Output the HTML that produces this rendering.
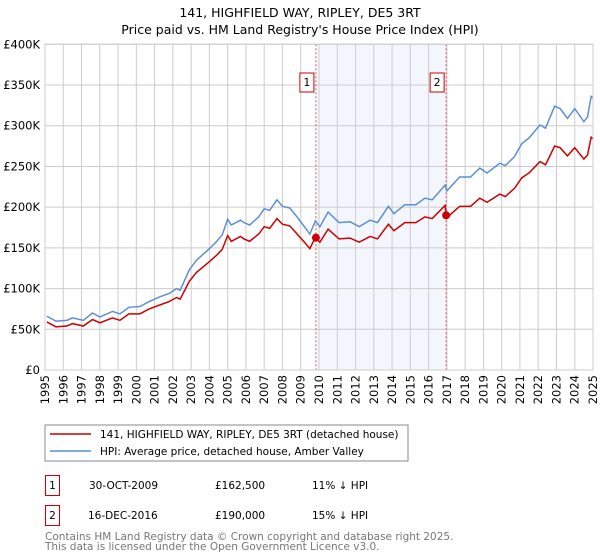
<!DOCTYPE html>
<html><head><meta charset="utf-8"><style>
body{margin:0;background:#fff;font-family:"DejaVu Sans","Liberation Sans",sans-serif;}
svg{display:block}
</style></head><body>
<svg width="600" height="560" viewBox="0 0 600 560" xmlns="http://www.w3.org/2000/svg" font-family="DejaVu Sans, Liberation Sans, sans-serif">
<text x="300" y="17" text-anchor="middle" font-size="12.5">141, HIGHFIELD WAY, RIPLEY, DE5 3RT</text>
<text x="300" y="34" text-anchor="middle" font-size="12.5">Price paid vs. HM Land Registry's House Price Index (HPI)</text>
<rect x="316" y="44" width="131" height="326" fill="#eef3fc" opacity="0.7"/>
<g id="grid"></g>
<g id="series"></g>
<g id="axes"></g>
<rect x="45" y="425" width="363" height="36" fill="#fff" stroke="#888"/>
<line x1="50" y1="434" x2="91" y2="434" stroke="#cc0000" stroke-width="1.6"/>
<text x="100" y="438" font-size="10.5">141, HIGHFIELD WAY, RIPLEY, DE5 3RT (detached house)</text>
<line x1="50" y1="451" x2="91" y2="451" stroke="#5b8fd4" stroke-width="1.6"/>
<text x="100" y="455" font-size="10.5">HPI: Average price, detached house, Amber Valley</text>
<g font-size="10.5">
<rect x="45.5" y="475.5" width="14" height="20" fill="#fff" stroke="#cc0000"/>
<text x="52.5" y="489" text-anchor="middle">1</text>
<text x="89" y="489">30-OCT-2009</text>
<text x="215" y="489">£162,500</text>
<text x="312" y="489">11% ↓ HPI</text>
<rect x="45.5" y="505.5" width="14" height="20" fill="#fff" stroke="#cc0000"/>
<text x="52.5" y="519" text-anchor="middle">2</text>
<text x="88" y="519">16-DEC-2016</text>
<text x="215" y="519">£190,000</text>
<text x="312" y="519">15% ↓ HPI</text>
</g>
<text x="45" y="540" font-size="10.5" fill="#777">Contains HM Land Registry data © Crown copyright and database right 2025.</text>
<text x="45" y="550" font-size="10.5" fill="#777">This data is licensed under the Open Government Licence v3.0.</text>
</svg>
<script>
const years=[1995.1,1995.6,1996.2,1996.5,1997.1,1997.6,1998,1998.7,1999.1,1999.6,2000.2,2000.7,2001.3,2001.8,2002.2,2002.4,2002.9,2003.3,2004,2004.4,2004.7,2005,2005.2,2005.7,2005.9,2006.2,2006.7,2007,2007.3,2007.7,2008,2008.4,2008.8,2009,2009.2,2009.5,2009.8,2010.05,2010.5,2011.1,2011.7,2012.2,2012.8,2013.2,2013.8,2014.1,2014.7,2015.3,2015.8,2016.2,2016.9,2017,2017.7,2018.3,2018.8,2019.2,2019.9,2020.2,2020.7,2021.1,2021.5,2022.1,2022.4,2022.9,2023.2,2023.6,2024,2024.5,2024.7,2024.9,2025];
const hpiValues=[66,60,61,64,61,70,65,72,69,77,78,84,90,94,100,98,123,135,149,158,166,185,178,184,181,178,188,198,196,209,201,199,188,182,176,167,183,176,194,181,182,176,184,181,201,192,203,203,211,209,227,220,237,237,248,242,254,251,262,278,285,301,297,324,321,309,321,305,311,336,334];
const priceValues=[59,53,54,57,54,62,58,64,61,69,69,75,80,84,89,87,109,120,133,141,148,165,158,164,161,158,167,176,174,186,179,177,167,162,157,149,163,157,173,161,162,157,164,161,179,171,181,181,188,186,202,187,201,201,211,206,216,213,223,236,242,256,252,275,273,263,273,259,264,286,284];
const saleYears=[2009.83,2016.96];
const saleValues=[162.5,190];
const yTicks=[0,50,100,150,200,250,300,350,400];
const yTickLabels=["£0","£50K","£100K","£150K","£200K","£250K","£300K","£350K","£400K"];
const xTicks=[1995,1996,1997,1998,1999,2000,2001,2002,2003,2004,2005,2006,2007,2008,2009,2010,2011,2012,2013,2014,2015,2016,2017,2018,2019,2020,2021,2022,2023,2024,2025];
const X0=45,X1=593,Y0=370,Y1=44.3;
const xs=y=>X0+(y-1995)/30*(X1-X0);
const ys=v=>Y0-v/400*(Y0-Y1);
const NS="http://www.w3.org/2000/svg";
function mk(tag,attrs,parent){const e=document.createElementNS(NS,tag);for(const k in attrs)e.setAttribute(k,attrs[k]);parent.appendChild(e);return e;}
const grid=document.getElementById('grid'),axes=document.getElementById('axes'),series=document.getElementById('series');
yTicks.forEach((t,i)=>{
 const l=mk('line',{x1:X0,x2:X1,y1:ys(t),y2:ys(t),stroke:'#ccc','stroke-width':1},grid);
 
 
 const tx=mk('text',{x:40,y:ys(t)+4,'text-anchor':'end','font-size':11.5},axes);
 tx.textContent=yTickLabels[i];
 
 
});
xTicks.forEach(t=>{
 const l=mk('line',{x1:xs(t),x2:xs(t),y1:Y1,y2:Y0,stroke:'#ccc','stroke-width':1},grid);
 
 
 const tx=mk('text',{x:0,y:0,'text-anchor':'end','font-size':11.5,transform:`translate(${xs(t)+4},375) rotate(-90)`},axes);
 tx.textContent=String(t);
 
 
});
const fr=mk('rect',{x:X0,y:Y1,width:X1-X0,height:Y0-Y1,fill:'none',stroke:'#ccc'},axes);


saleYears.forEach((s,i)=>{
 const l=mk('line',{x1:xs(s),x2:xs(s),y1:Y1,y2:Y0,stroke:'#e05555','stroke-dasharray':'2,2','stroke-width':1},series);
 
 
 const b=mk('rect',{x:xs(s)-16,y:73,width:14,height:19,fill:'#fff',stroke:'#cc0000'},series);
 
 
 const t=mk('text',{x:xs(s)-9,y:86,'text-anchor':'middle','font-size':11},series);
 t.textContent=String(i+1);
 
 
});
const hp=mk('polyline',{points:years.map((y,i)=>xs(y)+','+ys(hpiValues[i])).join(' '),fill:'none',stroke:'#5b8fd4','stroke-width':1.5},series);


const pp=mk('polyline',{points:years.map((y,i)=>xs(y)+','+ys(priceValues[i])).join(' '),fill:'none',stroke:'#cc0000','stroke-width':1.5},series);


saleYears.forEach((s,i)=>{
 const c=mk('circle',{cx:xs(s),cy:ys(saleValues[i]),r:4,fill:'#cc0000'},series);
 
 
});
</script>
</body></html>
